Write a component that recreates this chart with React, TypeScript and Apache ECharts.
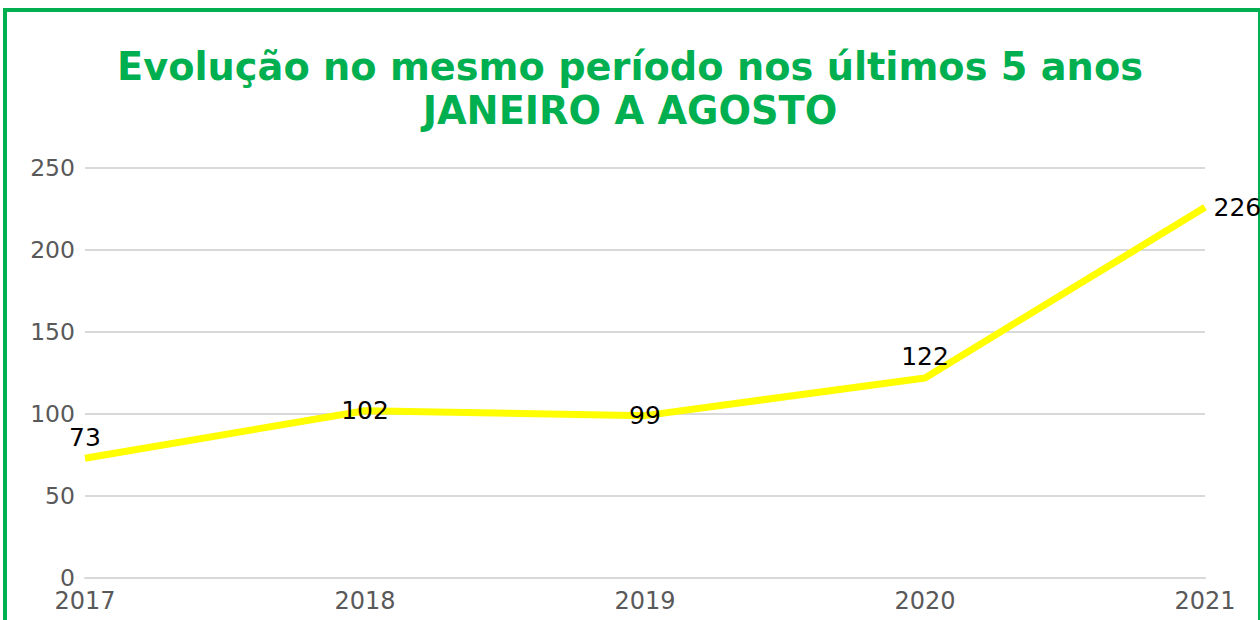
import React, { useEffect, useRef } from "react";
import * as echarts from "echarts";

const years = ["2017", "2018", "2019", "2020", "2021"];
const values = [73, 102, 99, 122, 226];
const labelPositions = ["top", "inside", "inside", "top", "right"];
const titleText = "Evolução no mesmo período nos últimos 5 anos\nJANEIRO A AGOSTO";

export default function App() {
  const ref = useRef<HTMLDivElement>(null);
  useEffect(() => {
    if (!ref.current) return;
    const chart = echarts.init(ref.current, null, { renderer: "svg" });
    chart.setOption({
      animation: false,
      title: {
        text: titleText,
        left: "center",
        top: 44,
        padding: 0,
        textStyle: {
          color: "#00b050",
          fontFamily: "DejaVu Sans",
          fontWeight: "bold",
          fontSize: 38.3,
          lineHeight: 44,
        },
      },
      grid: { left: 85, right: 55, top: 168, bottom: 42, containLabel: false },
      xAxis: {
        type: "category",
        data: years,
        boundaryGap: false,
        axisLine: { lineStyle: { color: "#d9d9d9", width: 2 } },
        axisTick: { show: false },
        axisLabel: {
          color: "#595959",
          fontFamily: "DejaVu Sans",
          fontSize: 24,
          margin: 11,
        },
      },
      yAxis: {
        type: "value",
        min: 0,
        max: 250,
        interval: 50,
        axisLine: { show: false },
        axisTick: { show: false },
        splitLine: { lineStyle: { color: "#d9d9d9", width: 2 } },
        axisLabel: {
          color: "#595959",
          fontFamily: "DejaVu Sans",
          fontSize: 23.5,
          margin: 10,
        },
      },
      series: [
        {
          type: "line",
          data: values.map((v, i) => ({
            value: v,
            label: { show: true, position: labelPositions[i] },
          })),
          symbol: "circle",
          symbolSize: 1,
          showSymbol: true,
          itemStyle: { color: "rgba(0,0,0,0)" },
          lineStyle: { color: "#ffff00", width: 7 },
          label: {
            show: true,
            color: "#000000",
            fontFamily: "DejaVu Sans",
            fontSize: 25,
            distance: 8,
          },
        },
      ],
    });
    return () => chart.dispose();
  }, []);
  return (
    <div>
      <div
        style={{
          position: "absolute",
          left: 3,
          top: 8,
          width: 1251,
          height: 640,
          border: "4px solid #00b050",
          borderRight: "2px solid #00b050",
        }}
      />
      <div
        ref={ref}
        style={{ position: "absolute", left: 0, top: 0, width: 1260, height: 620 }}
      />
    </div>
  );
}
